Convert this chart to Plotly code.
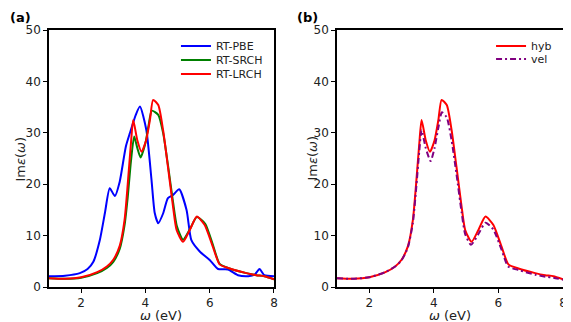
import plotly.graph_objects as go

# ── Data ────────────────────────────────────────────────────────────────────

pbe_x = [1.0, 1.5, 1.96, 2.2, 2.38, 2.58, 2.74, 2.89, 3.05, 3.2, 3.39, 3.52, 3.7, 3.83,
         4.03, 4.19, 4.29, 4.4, 4.55, 4.7, 4.86, 5.05, 5.28, 5.43, 5.69, 6.0, 6.26,
         6.57, 6.88, 7.2, 7.4, 7.55, 7.7, 8.0]
pbe_y = [2.1, 2.2, 2.7, 3.5, 4.9, 9.1, 14.4, 19.2, 17.7, 20.5, 27.3, 30.0, 33.5, 35.1,
         30.5, 20.8, 14.4, 12.4, 14.3, 17.3, 17.9, 19.0, 15.0, 9.1, 6.9, 5.25, 3.5,
         3.4, 2.3, 2.1, 2.4, 3.5, 2.3, 2.1]

lrch_x = [1.0, 1.5, 2.0, 2.5, 2.8, 3.0, 3.2, 3.35, 3.45, 3.55, 3.62, 3.75, 3.88, 4.02,
          4.14, 4.24, 4.4, 4.55, 4.7, 4.86, 4.97, 5.17, 5.38, 5.6, 5.84, 6.1, 6.31,
          6.62, 7.14, 7.45, 7.7, 8.0]
lrch_y = [1.7, 1.6, 1.9, 2.9, 4.0, 5.3, 8.0, 13.0, 20.0, 28.0, 32.5, 28.5, 26.3, 28.5,
          32.5, 36.4, 35.4, 30.5, 23.4, 15.6, 11.1, 8.8, 11.1, 13.7, 12.1, 7.8, 4.4,
          3.6, 2.7, 2.3, 2.1, 1.5]

srch_x = [1.0, 1.5, 2.0, 2.5, 2.8, 3.0, 3.2, 3.35, 3.45, 3.55, 3.65, 3.75, 3.85, 4.0,
          4.1, 4.2, 4.4, 4.55, 4.7, 4.86, 4.98, 5.17, 5.38, 5.6, 5.86, 6.1, 6.31,
          6.62, 7.14, 7.45, 7.7, 8.0]
srch_y = [1.7, 1.6, 1.8, 2.7, 3.7, 4.9, 7.4, 12.0, 17.5, 24.5, 29.3, 27.0, 25.2, 28.0,
          31.5, 34.3, 33.5, 30.0, 23.8, 16.5, 11.8, 9.2, 11.2, 13.6, 12.3, 8.2, 4.5,
          3.6, 2.7, 2.3, 2.1, 1.5]

vel_x = [1.0, 1.5, 2.0, 2.5, 2.8, 3.0, 3.2, 3.35, 3.45, 3.55, 3.62, 3.75, 3.9, 4.02,
         4.14, 4.25, 4.4, 4.55, 4.7, 4.86, 4.97, 5.15, 5.38, 5.6, 5.84, 6.1, 6.3,
         6.62, 7.14, 7.45, 7.7, 8.0]
vel_y = [1.7, 1.6, 1.9, 2.9, 4.0, 5.2, 7.8, 12.5, 19.0, 26.5, 30.5, 27.0, 24.5, 27.0,
         31.0, 34.0, 33.0, 28.5, 22.0, 14.5, 10.3, 8.2, 10.3, 12.5, 11.2, 7.2, 4.0,
         3.3, 2.4, 2.0, 1.8, 1.4]

X_RANGE = [1, 8]
Y_RANGE = [0, 50]
X_TICKS = [2, 4, 6, 8]
Y_TICKS = [0, 10, 20, 30, 40, 50]

FONT = "DejaVu Sans"
TXT = "#222"

# ── Figure ──────────────────────────────────────────────────────────────────
# the page body keeps the browser's default 8px margin, so the figure is 8px
# smaller than the window and the margins are shifted by the same amount

fig = go.Figure()


def add_line(x, y, name, color, xa, ya, legend, dash="solid"):
    fig.add_trace(go.Scatter(
        x=x, y=y, name=name, mode="lines",
        line=dict(color=color, width=2, shape="spline", smoothing=0.6, dash=dash),
        xaxis=xa, yaxis=ya, legend=legend,
    ))


# one legend per entry so the row spacing can match the reference
add_line(pbe_x, pbe_y, "RT-PBE", "#0000ff", "x", "y", "legend")
add_line(srch_x, srch_y, "RT-SRCH", "#008000", "x", "y", "legend3")
add_line(lrch_x, lrch_y, "RT-LRCH", "#ff0000", "x", "y", "legend4")

add_line(lrch_x, lrch_y, "hyb", "#ff0000", "x2", "y2", "legend2")
add_line(vel_x, vel_y, "vel", "#800080", "x2", "y2", "legend5", dash="6px,3px,2px,3px")

axis_common = dict(
    showline=True, linecolor="black", linewidth=1.5, mirror=True,
    ticks="outside", ticklen=4, tickwidth=1, tickcolor="black",
    showgrid=False, zeroline=False, automargin=False,
    tickfont=dict(family=FONT, size=12, color=TXT),
)


def legend_at(x, y):
    return dict(
        x=x, y=y, xanchor="left", yanchor="middle",
        bgcolor="rgba(0,0,0,0)", borderwidth=0,
        font=dict(family=FONT, size=11, color=TXT), itemwidth=30,
    )


def label(text, x, y, angle=0, size=13, bold=False, xanchor="center", yanchor="middle"):
    return dict(
        text=f"<b>{text}</b>" if bold else text, x=x, y=y,
        xref="paper", yref="paper", xanchor=xanchor, yanchor=yanchor,
        showarrow=False, textangle=angle,
        font=dict(family=FONT, size=size, color="black" if bold else TXT),
    )


# plot area (figure coords): x 41..555 px, y 22..279 px
fig.update_layout(
    width=563, height=314,
    margin=dict(l=41, r=8, t=22, b=35),
    paper_bgcolor="white", plot_bgcolor="white",
    showlegend=True,
    xaxis=dict(domain=[0.0, 0.4377], range=X_RANGE, tickvals=X_TICKS, anchor="y", **axis_common),
    yaxis=dict(domain=[0.0, 1.0], range=Y_RANGE, tickvals=Y_TICKS, anchor="x", **axis_common),
    xaxis2=dict(domain=[0.5603, 1.0], range=X_RANGE, tickvals=X_TICKS, anchor="y2", **axis_common),
    yaxis2=dict(domain=[0.0, 1.0], range=Y_RANGE, tickvals=Y_TICKS, anchor="x2", **axis_common),
    legend=legend_at(0.247, 0.938),
    legend3=legend_at(0.247, 0.8836),
    legend4=legend_at(0.247, 0.8291),
    legend2=legend_at(0.86, 0.938),
    legend5=legend_at(0.86, 0.8874),
    annotations=[
        label("(a)", -0.0798, 1.0856, bold=True, xanchor="left", yanchor="top"),
        label("(b)", 0.479, 1.0856, bold=True, xanchor="left", yanchor="top"),
        label("<i>ω</i> (eV)", 0.2188, -0.111),
        label("<i>ω</i> (eV)", 0.7801, -0.111),
        label("Im<i>ε</i>(<i>ω</i>)", -0.0545, 0.5, angle=-90),
        label("Im<i>ε</i>(<i>ω</i>)", 0.5603 - 0.0486, 0.5, angle=-90),
    ],
)

fig.write_html("out.html")
